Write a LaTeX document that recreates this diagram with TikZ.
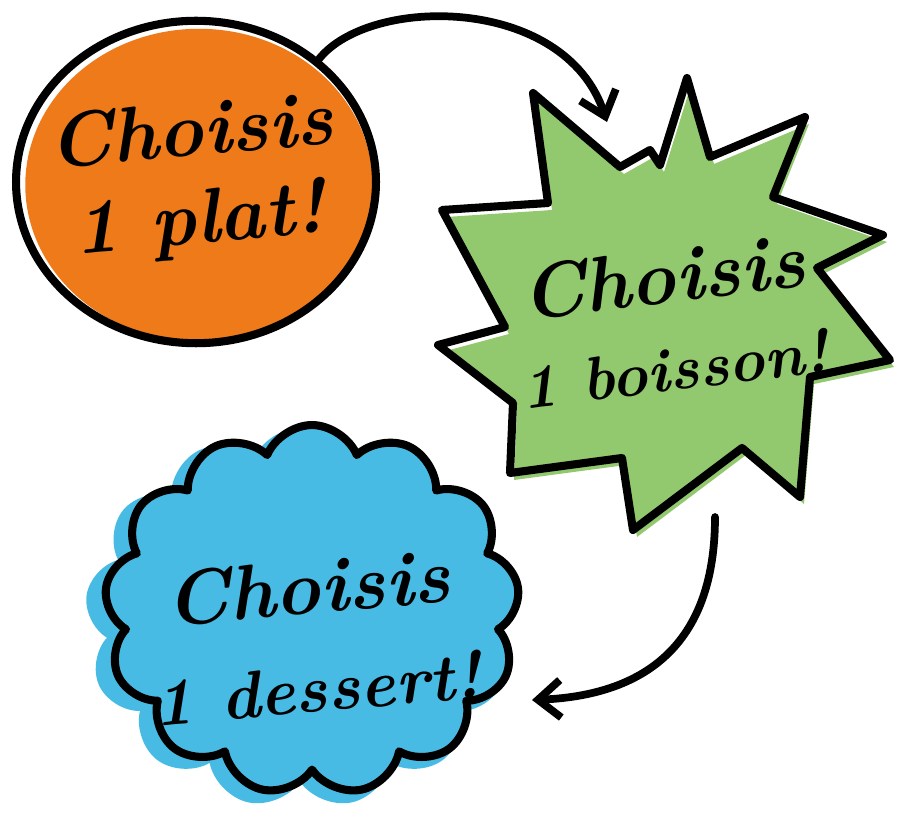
\documentclass[tikz,border=0pt]{standalone}
\usepackage{tikz}
\usetikzlibrary{arrows.meta, shapes.geometric, shapes.symbols}
\definecolor{platorange}{RGB}{238,122,26}
\definecolor{boissonvert}{RGB}{146,200,110}
\definecolor{dessertbleu}{RGB}{72,187,228}

\begin{document}
\begin{tikzpicture}[x=0.02cm, y=-0.02cm,
  contour/.style={draw=black, line width=4.6pt, line join=round},
  fleche/.style={draw=black, line width=4.4pt, line cap=round,
                 -{Straight Barb[length=4.5mm, width=7.5mm]}},
  texte/.style={font=\fontsize{44}{50}\selectfont\bfseries\itshape,
                align=center, inner sep=0pt}]
  \useasboundingbox (0,0) rectangle (908,813);

  % Plat
  \node[ellipse, fill=platorange, minimum width=6.95cm, minimum height=6.25cm]
        at (199,185) {};
  \node[ellipse, contour, minimum width=7.2cm, minimum height=6.45cm]
        (plat) at (196,182) {};
  \node[texte, rotate=5] (plattexte) at (195,180) {Choisis\\1 plat!};

  % Boisson
  \fill[boissonvert, shift={(4,7)}]
    (533,93) -- (620,167) -- (650,150) -- (660,165) -- (687,78) -- (710,157)
    -- (805,117) -- (773,197) -- (883,235) -- (817,268) -- (890,360)
    -- (810,377) -- (800,497) -- (742,448) -- (633,530) -- (622,458)
    -- (510,473) -- (513,403) -- (438,345) -- (505,327) -- (442,210)
    -- (548,203) -- cycle;
  \draw[contour]
    (533,93) -- (620,167) -- (650,150) -- (660,165) -- (687,78) -- (710,157)
    -- (805,117) -- (773,197) -- (883,235) -- (817,268) -- (890,360)
    -- (810,377) -- (800,497) -- (742,448) -- (633,530) -- (622,458)
    -- (510,473) -- (513,403) -- (438,345) -- (505,327) -- (442,210)
    -- (548,203) -- cycle;
  \node[texte, rotate=7] (boisson) at (668,320)
        {Choisis\\{\fontsize{35}{52}\selectfont 1 boisson!}};
  \coordinate (boissonhaut) at (607,122);
  \coordinate (boissonbas) at (715,517);

  % Dessert
  \node[cloud, cloud puffs=13, cloud puff arc=135, fill=dessertbleu,
        minimum width=8.6cm, minimum height=7.6cm] at (300,618) {};
  \node[cloud, cloud puffs=13, cloud puff arc=135, contour, fill=dessertbleu,
        minimum width=8.3cm, minimum height=7.4cm] (dessert) at (312,610) {};
  \node[texte, rotate=5, font=\fontsize{44}{56}\selectfont\bfseries\itshape]
        (desserttexte) at (312,636)
        {Choisis\\{\fontsize{38}{56}\selectfont 1 dessert!}};
  \coordinate (dessertdroite) at (532,700);

  % Fleches
  \draw[fleche] (plat.45) .. controls (370,-5) and (565,-5) .. (boissonhaut);
  \draw[fleche] (boissonbas) .. controls (715,640) and (650,695) .. (dessertdroite);
\end{tikzpicture}
\end{document}
